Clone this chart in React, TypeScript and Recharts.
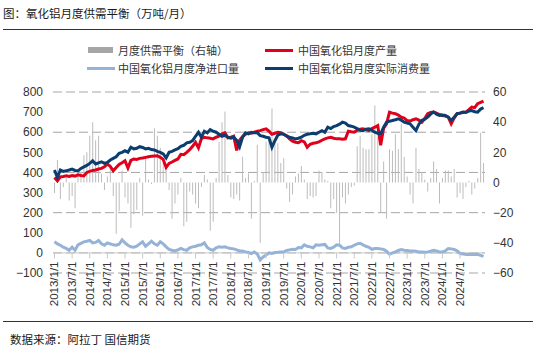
import { ComposedChart, Bar, Line, XAxis, YAxis, CartesianGrid, ReferenceLine } from 'recharts';

// 月度数据 2013/1 - 2025/3（万吨）
const production = [
  375, 358, 378, 380, 383, 380, 385, 382, 388, 385, 383, 400,
  405, 410, 412, 417, 420, 428, 442, 430, 408, 425, 440, 448,
  458, 422, 460, 467, 465, 470, 472, 475, 478, 480, 482, 483,
  475, 465, 425, 445, 452, 460, 467, 490, 488, 500, 513, 530,
  550, 522, 568, 575, 572, 570, 567, 575, 580, 592, 597, 572,
  575, 580, 510, 560, 578, 590, 597, 595, 600, 605, 608, 613,
  617, 605, 590, 595, 600, 598, 590, 583, 567, 555, 550, 548,
  558, 552, 525, 540, 545, 548, 552, 560, 567, 572, 575, 570,
  567, 568, 565, 567, 605, 602, 600, 610, 615, 617, 612, 608,
  618, 625, 633, 535, 620, 642, 700, 695, 692, 685, 675, 670,
  658, 655, 662, 667, 660, 650, 668, 692, 698, 700, 695, 688,
  683, 680, 675, 642, 670, 692, 695, 698, 700, 712, 725, 722,
  742, 748, 755,
];

const netImports = [
  55, 45, 38, 28, 22, 13, 28, 13, 40, 47, 55, 58,
  62, 50, 52, 62, 45, 38, 50, 45, 40, 38, 43, 65,
  50, 38, 30, 28, 33, 45, 55, 33, 45, 58, 45, 38,
  55, 45, 30, 17, 13, 10, 15, 22, 16, 13, 25, 30,
  33, 38, 40, 50, 27, 17, 13, 25, 30, 28, 30, 25,
  22, 20, 15, 10, 10, 5, 2, -3, 5, -5, -35, -20,
  -10, 0, -3, 2, 3, 5, 4, 12, 15, 18, 17, 27,
  25, 40, 33, 30, 25, 40, 38, 40, 42, 25, 22, 28,
  40, 38, 25, 22, 28, 30, 38, 45, 48, 40, 33, 28,
  18, 22, 22, 20, 17, 8, -7, 0, 5, 12, 17, 13,
  12, 10, 10, 8, 5, 5, 3, 5, 8, 13, 10, 5,
  5, 10, 22, 20, 17, 10, -3, -5, -8, -8, -8, -8,
  -7, -12, -17,
];

const consumption = [
  412, 375, 412, 405, 408, 412, 417, 410, 408, 420, 428, 435,
  445, 458, 442, 448, 453, 445, 450, 462, 470, 478, 495, 500,
  508, 500, 525, 517, 520, 528, 524, 517, 520, 514, 512, 505,
  500, 492, 472, 500, 505, 512, 518, 530, 535, 547, 550, 558,
  580, 600, 575, 605, 597, 613, 605, 600, 590, 580, 585, 575,
  570, 575, 560, 528, 575, 597, 592, 600, 597, 598, 583, 580,
  575, 572, 525, 558, 585, 592, 590, 580, 575, 572, 567, 570,
  575, 585, 590, 592, 595, 592, 600, 608, 600, 625, 618, 628,
  633, 640, 650, 645, 633, 630, 625, 618, 610, 608, 615, 617,
  610, 600, 595, 592, 625, 650, 655, 658, 662, 667, 660, 650,
  645, 642, 625, 608, 640, 658, 665, 675, 690, 700, 690, 683,
  685, 683, 675, 658, 675, 692, 695, 700, 698, 705, 708, 702,
  700, 715, 722,
];

// 月度供需平衡（右轴）
const balance = [
  -7, 15, -11, -3, 3, -12, -9, -17, 8, 7, 18, 20,
  31, 40, 28, 31, 6, -5, 4, 12, -9, -34, -19, 8,
  -10, -14, -30, -21, -18, 3, -22, 16, 2, -1, 36, 31,
  23, 13, 12, -5, -24, -14, -8, 3, -29, -26, -6, -8,
  -14, -17, -3, 5, 2, -32, -26, 3, 27, 40, 47, 5,
  -10, -11, -8, -12, 17, 3, 6, -24, 1, 25, -40, 7,
  27, 28, 49, 27, 26, 13, 16, -4, -13, -8, 4, 6,
  11, 2, -11, -9, -10, -9, 8, 7, 2, 1, -17, -11,
  -20, -41, -10, -14, -8, -3, -2, 24, 31, 23, 22, 22,
  32, 51, 30, -20, 14, -24, 22, 21, 32, 22, 39, 17,
  4, -8, -14, 23, 9, 7, 2, -6, 3, 14, 9, -14,
  3, 8, 8, 4, 9, -10, -7, -11, -3, 1, -8, -4,
  3, 33, 13,
];

const tickLabels = [
  '2013/1/1', '2013/7/1', '2014/1/1', '2014/7/1', '2015/1/1', '2015/7/1',
  '2016/1/1', '2016/7/1', '2017/1/1', '2017/7/1', '2018/1/1', '2018/7/1',
  '2019/1/1', '2019/7/1', '2020/1/1', '2020/7/1', '2021/1/1', '2021/7/1',
  '2022/1/1', '2022/7/1', '2023/1/1', '2023/7/1', '2024/1/1', '2024/7/1',
];
const leftTicks = [-100, 0, 100, 200, 300, 400, 500, 600, 700, 800];
const rightTicks = [-60, -40, -20, 0, 20, 40, 60];

const months: string[] = [];
for (let y = 2013; months.length < production.length; y++) {
  for (let m = 1; m <= 12 && months.length < production.length; m++) months.push(`${y}/${m}/1`);
}

const data = months.map((date, i) => ({
  date,
  production: production[i],
  netImports: netImports[i],
  consumption: consumption[i],
  balance: balance[i],
}));

const NUM_FONT = '"Liberation Sans", Arial, sans-serif';
const CJK_FONT = '"Noto Sans CJK SC", sans-serif';

const fmt = (v: number) => (v < 0 ? `\u2212${Math.abs(v)}` : `${v}`);

function DateTick({ x, y, payload }: any) {
  const ty = y - 11.5;
  return (
    <g>
      <line x1={x} x2={x} y1={y - 20} y2={y - 14.5} stroke="#c8c8c8" />
      <text
        x={x}
        y={ty}
        dy="0.35em"
        transform={`rotate(-90, ${x}, ${ty})`}
        textAnchor="end"
        fontSize={11.5}
        fontFamily={NUM_FONT}
        fill="#333"
      >
        {payload.value}
      </text>
    </g>
  );
}

const legendText: React.CSSProperties = {
  position: 'absolute',
  fontFamily: CJK_FONT,
  fontSize: 11,
  lineHeight: '14px',
  color: '#333',
  whiteSpace: 'nowrap',
};

export default function App() {
  return (
    <div style={{ position: 'absolute', left: 0, top: 0, width: 533, height: 352, background: '#fff' }}>
      <div style={{ ...legendText, left: 3, top: 6, fontSize: 11.5, color: '#1a1a1a' }}>
        图：氧化铝月度供需平衡（万吨/月）
      </div>
      <div style={{ position: 'absolute', left: 3, right: 0, top: 28.5, height: 1.3, background: '#333' }} />

      <div style={{ position: 'absolute', left: 88, top: 47, width: 25, height: 6, background: '#a6a6a6' }} />
      <div style={{ ...legendText, left: 118, top: 43 }}>月度供需平衡（右轴）</div>
      <div style={{ position: 'absolute', left: 265, top: 48.5, width: 28, height: 3, background: '#e0001b' }} />
      <div style={{ ...legendText, left: 298, top: 43 }}>中国氧化铝月度产量</div>
      <div style={{ position: 'absolute', left: 87, top: 66.5, width: 28, height: 3, background: '#95b3d7' }} />
      <div style={{ ...legendText, left: 118, top: 61 }}>中国氧化铝月度净进口量</div>
      <div style={{ position: 'absolute', left: 265, top: 66.5, width: 28, height: 3, background: '#0b3d6f' }} />
      <div style={{ ...legendText, left: 298, top: 61 }}>中国氧化铝月度实际消费量</div>

      <div style={{ position: 'absolute', left: 0, top: 0 }}>
        <ComposedChart width={533} height={352} data={data} margin={{ top: 92, right: 0, bottom: 0, left: 0 }}>
          <CartesianGrid yAxisId="left" vertical={false} stroke="#a6a6a6" strokeDasharray="9 4" />
          <XAxis
            dataKey="date"
            ticks={tickLabels}
            interval={0}
            height={79}
            axisLine={false}
            tickLine={false}
            tickSize={0}
            tickMargin={0}
            tick={<DateTick />}
          />
          <YAxis
            yAxisId="left"
            domain={[-100, 800]}
            ticks={leftTicks}
            width={53}
            axisLine={false}
            tickLine={false}
            tickSize={0}
            tickMargin={10}
            tickFormatter={fmt}
            tick={{ fontSize: 12, fill: '#333', fontFamily: NUM_FONT }}
          />
          <YAxis
            yAxisId="right"
            orientation="right"
            domain={[-60, 60]}
            ticks={rightTicks}
            width={48}
            axisLine={false}
            tickLine={false}
            tickSize={0}
            tickMargin={8}
            tickFormatter={fmt}
            tick={{ fontSize: 12, fill: '#333', fontFamily: NUM_FONT }}
          />
          <ReferenceLine yAxisId="left" y={0} stroke="#c8c8c8" />
          <Bar yAxisId="right" dataKey="balance" fill="#bcbcbc" barSize={1} isAnimationActive={false} />
          <Line yAxisId="left" dataKey="production" stroke="#e0001b" strokeWidth={3} dot={false} type="linear" isAnimationActive={false} />
          <Line yAxisId="left" dataKey="netImports" stroke="#95b3d7" strokeWidth={3} dot={false} type="linear" isAnimationActive={false} />
          <Line yAxisId="left" dataKey="consumption" stroke="#0b3d6f" strokeWidth={3} dot={false} type="linear" isAnimationActive={false} />
        </ComposedChart>
      </div>

      <div style={{ position: 'absolute', left: 3, right: 0, top: 321, height: 1.3, background: '#333' }} />
      <div style={{ ...legendText, left: 10, top: 332, fontSize: 11.5, color: '#1a1a1a' }}>数据来源：阿拉丁 国信期货</div>
    </div>
  );
}
